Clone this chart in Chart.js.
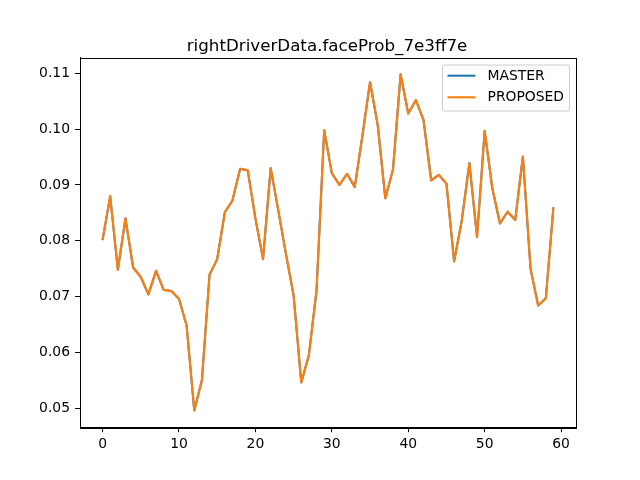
<!DOCTYPE html>
<html>
<head>
<meta charset="utf-8">
<script src="https://cdn.jsdelivr.net/npm/chart.js@4/dist/chart.umd.min.js"></script>
<style>
  html, body { margin: 0; padding: 0; background: #fff; }
</style>
</head>
<body>
<canvas id="faceProbChart" width="640" height="480"></canvas>
<script>
const chartTitle = 'rightDriverData.faceProb_7e3ff7e';
const seriesNames = ['MASTER', 'PROPOSED'];
const seriesColors = ['#1f77b4', '#ff7f0e'];

const frameIndex = [];
for (let i = 0; i < 60; i++) frameIndex.push(i);

const masterValues = [
  0.0801, 0.0880, 0.0748, 0.0840, 0.0752, 0.0735, 0.0704, 0.0746, 0.0712, 0.0710,
  0.0696, 0.0648, 0.0496, 0.0550, 0.0739, 0.0767, 0.0851, 0.0872, 0.0929, 0.0926,
  0.0840, 0.0767, 0.0930, 0.0854, 0.0776, 0.0702, 0.0546, 0.0595, 0.0711, 0.0998,
  0.0921, 0.0900, 0.0920, 0.0896, 0.0988, 0.1084, 0.1008, 0.0876, 0.0927, 0.1098,
  0.1028, 0.1052, 0.1016, 0.0908, 0.0918, 0.0902, 0.0763, 0.0836, 0.0939, 0.0807,
  0.0997, 0.0894, 0.0831, 0.0852, 0.0837, 0.0951, 0.0750, 0.0684, 0.0697, 0.0860
];
const proposedValues = [
  0.0801, 0.0880, 0.0748, 0.0840, 0.0752, 0.0735, 0.0704, 0.0746, 0.0712, 0.0710,
  0.0696, 0.0648, 0.0496, 0.0550, 0.0739, 0.0767, 0.0851, 0.0872, 0.0929, 0.0926,
  0.0840, 0.0767, 0.0930, 0.0854, 0.0776, 0.0702, 0.0546, 0.0595, 0.0711, 0.0998,
  0.0921, 0.0900, 0.0920, 0.0896, 0.0988, 0.1084, 0.1008, 0.0876, 0.0927, 0.1098,
  0.1028, 0.1052, 0.1016, 0.0908, 0.0918, 0.0902, 0.0763, 0.0836, 0.0939, 0.0807,
  0.0997, 0.0894, 0.0831, 0.0852, 0.0837, 0.0951, 0.0750, 0.0684, 0.0697, 0.0860
];

const xTicks = [0, 10, 20, 30, 40, 50, 60];
const yTicks = [0.05, 0.06, 0.07, 0.08, 0.09, 0.10, 0.11];

const FONT = 'DejaVu Sans';

// axes frame, title and in-plot legend (matplotlib look)
const mplDecor = {
  id: 'mplDecor',
  afterDraw(chart) {
    const ctx = chart.ctx;
    const a = chart.chartArea;
    ctx.save();
    ctx.strokeStyle = '#000';
    ctx.lineWidth = 1;
    ctx.strokeRect(Math.round(a.left) + 0.5, Math.round(a.top) + 0.5,
      Math.round(a.right - a.left), Math.round(a.bottom - a.top));

    ctx.fillStyle = '#000';
    ctx.font = '16.7px "' + FONT + '"';
    ctx.textAlign = 'center';
    ctx.textBaseline = 'alphabetic';
    ctx.fillText(chartTitle, (a.left + a.right) / 2 - 1, 50.5);

    // legend
    const bx = 442.5, by = 65, bw = 127, bh = 46, r = 2.5;
    ctx.beginPath();
    ctx.moveTo(bx + r, by);
    ctx.arcTo(bx + bw, by, bx + bw, by + bh, r);
    ctx.arcTo(bx + bw, by + bh, bx, by + bh, r);
    ctx.arcTo(bx, by + bh, bx, by, r);
    ctx.arcTo(bx, by, bx + bw, by, r);
    ctx.closePath();
    ctx.fillStyle = 'rgba(255,255,255,0.8)';
    ctx.fill();
    ctx.strokeStyle = '#cccccc';
    ctx.stroke();

    ctx.font = '13.9px "' + FONT + '"';
    ctx.textAlign = 'left';
    ctx.textBaseline = 'middle';
    chart.data.datasets.forEach((ds, i) => {
      const y = 75.7 + i * 21.6;
      ctx.strokeStyle = ds.borderColor;
      ctx.lineWidth = 2.1;
      ctx.beginPath();
      ctx.moveTo(447.5, y);
      ctx.lineTo(475.5, y);
      ctx.stroke();
      ctx.fillStyle = '#000';
      ctx.fillText(ds.label, 487.5, y + 0.5);
    });
    ctx.restore();
  }
};

new Chart(document.getElementById('faceProbChart').getContext('2d'), {
  type: 'line',
  data: {
    datasets: [
      {
        label: seriesNames[0],
        data: frameIndex.map((x, i) => ({ x: x, y: masterValues[i] })),
        borderColor: seriesColors[0],
        borderWidth: 2.1,
        borderJoinStyle: 'round',
        pointRadius: 0,
        tension: 0,
        fill: false,
        order: 1, // drawn first, underneath
      },
      {
        label: seriesNames[1],
        data: frameIndex.map((x, i) => ({ x: x, y: proposedValues[i] })),
        borderColor: seriesColors[1],
        borderWidth: 2.1,
        borderJoinStyle: 'round',
        pointRadius: 0,
        tension: 0,
        fill: false,
        order: 0, // on top
      },
    ],
  },
  options: {
    responsive: false,
    animation: false,
    devicePixelRatio: 1,
    layout: { padding: { left: 0, right: 64, top: 57.6, bottom: 0 } },
    plugins: {
      legend: { display: false },
      title: { display: false },
      tooltip: { enabled: false },
    },
    scales: {
      x: {
        type: 'linear',
        min: -2.95,
        max: 61.95,
        afterFit: (s) => { s.height = 52.8; },
        afterBuildTicks: (s) => { s.ticks = xTicks.map((v) => ({ value: v })); },
        grid: { drawOnChartArea: false, drawTicks: true, tickLength: 5, tickColor: '#000' },
        border: { display: true, color: '#000', width: 1 },
        ticks: {
          color: '#000',
          font: { family: FONT, size: 13.9 },
          padding: 4,
          maxRotation: 0,
          callback: (v) => String(v),
        },
      },
      y: {
        type: 'linear',
        min: 0.04659,
        max: 0.11281,
        afterFit: (s) => { s.width = 80; },
        afterBuildTicks: (s) => { s.ticks = yTicks.map((v) => ({ value: v })); },
        grid: { drawOnChartArea: false, drawTicks: true, tickLength: 5, tickColor: '#000' },
        border: { display: true, color: '#000', width: 1 },
        ticks: {
          color: '#000',
          font: { family: FONT, size: 13.9 },
          padding: 5,
          callback: (v) => v.toFixed(2),
        },
      },
    },
  },
  plugins: [mplDecor],
});
</script>
</body>
</html>
